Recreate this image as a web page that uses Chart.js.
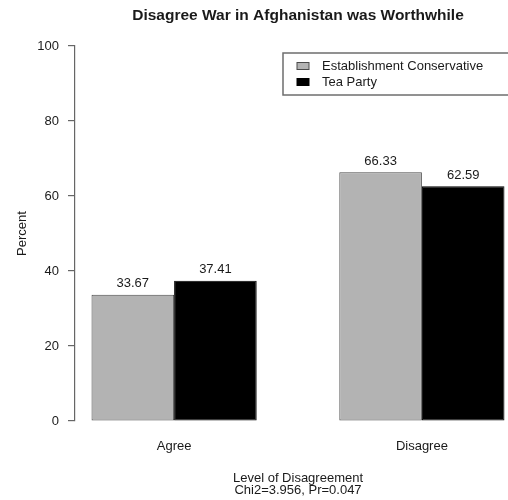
<!DOCTYPE html>
<html>
<head>
<meta charset="utf-8">
<script src="https://cdn.jsdelivr.net/npm/chart.js@4.4.1/dist/chart.umd.min.js"></script>
<style>
  html, body { margin: 0; padding: 0; background: #fff; overflow: hidden; }
  #wrap { width: 521px; height: 500px; }
</style>
</head>
<body>
<div id="wrap"><canvas id="chart" width="521" height="500"></canvas></div>
<script>
const categories = ['Agree', 'Disagree'];
const establishment = [33.67, 66.33];
const teaParty = [37.41, 62.59];
const seriesNames = ['Establishment Conservative', 'Tea Party'];
const yTicks = [0, 20, 40, 60, 80, 100];

const FONT = 'Liberation Sans, Arial, Helvetica, sans-serif';
const TEXT = '#1a1a1a';

// R barplot geometry: bars width 1, one unit gap between groups
const groupCenter = i => 2 + i * 3;
const toPoints = vals => vals.map((v, i) => ({ x: groupCenter(i), y: v }));

const valueLabels = {
  id: 'valueLabels',
  afterDatasetsDraw(chart) {
    const ctx = chart.ctx;
    ctx.save();
    ctx.font = '13px ' + FONT;
    ctx.fillStyle = TEXT;
    ctx.textAlign = 'center';
    ctx.textBaseline = 'middle';
    chart.data.datasets.forEach((ds, d) => {
      chart.getDatasetMeta(d).data.forEach((bar, i) => {
        ctx.fillText(ds.data[i].y.toFixed(2), bar.x, bar.y - 11);
      });
    });
    ctx.restore();
  }
};

const boxLegend = {
  id: 'boxLegend',
  afterDraw(chart) {
    const ctx = chart.ctx;
    const a = chart.chartArea;
    const left = a.left + 208, top = a.top + 7, right = a.right + 20, bottom = top + 42;
    ctx.save();
    ctx.strokeStyle = '#6e6e6e';
    ctx.lineWidth = 1.5;
    ctx.strokeRect(left, top, right - left, bottom - top);
    ctx.font = '13px ' + FONT;
    ctx.textBaseline = 'middle';
    chart.data.datasets.forEach((ds, d) => {
      const cy = top + 13 + d * 16;
      ctx.fillStyle = ds.backgroundColor;
      ctx.fillRect(left + 14, cy - 3.5, 12, 7);
      ctx.strokeStyle = ds.borderColor;
      ctx.lineWidth = 1;
      ctx.strokeRect(left + 14, cy - 3.5, 12, 7);
      ctx.fillStyle = TEXT;
      ctx.fillText(ds.label, left + 39, cy);
    });
    ctx.restore();
  }
};

new Chart(document.getElementById('chart'), {
  type: 'bar',
  data: {
    datasets: [
      {
        label: seriesNames[0],
        data: toPoints(establishment),
        backgroundColor: '#b3b3b3',
        borderColor: '#4a4a4a',
        borderWidth: 1,
        borderSkipped: false
      },
      {
        label: seriesNames[1],
        data: toPoints(teaParty),
        backgroundColor: '#000000',
        borderColor: '#000000',
        borderWidth: 1,
        borderSkipped: false
      }
    ]
  },
  options: {
    responsive: false,
    animation: false,
    layout: { padding: 0 },
    datasets: { bar: { categoryPercentage: 2 / 3, barPercentage: 1 } },
    plugins: {
      legend: { display: false },
      tooltip: { enabled: false },
      title: {
        display: true,
        text: 'Disagree War in Afghanistan was Worthwhile',
        fullSize: false,
        color: TEXT,
        font: { family: FONT, size: 15.5, weight: 'bold', lineHeight: 1.2 },
        padding: { top: 6.5, bottom: 20.9 }
      }
    },
    scales: {
      x: {
        type: 'linear',
        min: 0.8,
        max: 6.2,
        offset: false,
        grid: { display: false, drawTicks: false },
        border: { display: false },
        afterFit(scale) { scale.height = 79; },
        afterBuildTicks(scale) {
          scale.ticks = categories.map((c, i) => ({ value: groupCenter(i) }));
        },
        ticks: {
          padding: 17.5,
          color: TEXT,
          font: { family: FONT, size: 13 },
          callback: (v, i) => categories[i]
        },
        title: {
          display: true,
          text: ['Level of Disagreement', 'Chi2=3.956, Pr=0.047'],
          color: TEXT,
          font: { family: FONT, size: 13, lineHeight: 0.96 },
          padding: { top: 0, bottom: 3 }
        }
      },
      y: {
        min: 0,
        max: 100,
        afterFit(scale) { scale.width = 75; },
        afterBuildTicks(scale) {
          scale.ticks = yTicks.map(v => ({ value: v }));
        },
        grid: { drawOnChartArea: false, drawTicks: true, tickLength: 7, color: '#666', lineWidth: 1.2 },
        border: { display: true, color: '#666', width: 1.2 },
        ticks: {
          padding: 9,
          color: TEXT,
          font: { family: FONT, size: 13 }
        },
        title: {
          display: true,
          text: 'Percent',
          color: TEXT,
          font: { family: FONT, size: 13 },
          padding: { top: 15, bottom: 0 }
        }
      }
    }
  },
  plugins: [valueLabels, boxLegend]
});
</script>
</body>
</html>
